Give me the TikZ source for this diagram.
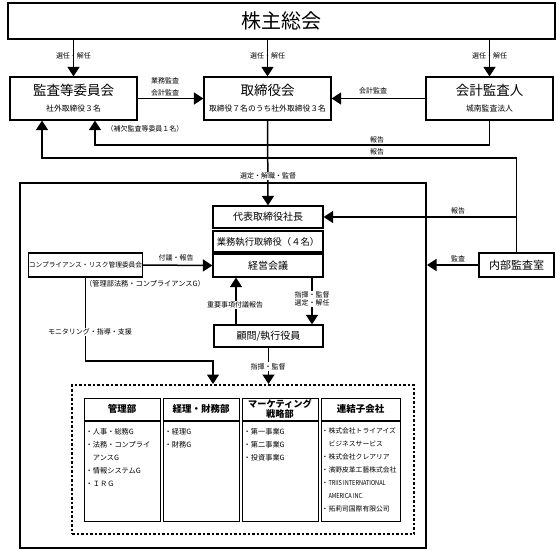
\documentclass[tikz,border=0pt]{standalone}
\usepackage{fontspec}
\setmainfont{Noto Sans CJK JP}
\usetikzlibrary{arrows.meta}
\tikzset{
  box/.style={draw, line width=1.2pt, fill=white, inner sep=0pt},
  arr/.style={line width=1.5pt, -{Triangle[width=12pt,length=9.5pt]}},
  lbl/.style={font=\fontsize{7}{8.5}\selectfont, inner sep=1pt, align=center},
  lblw/.style={lbl, fill=white},
  title/.style={font=\fontsize{13.5}{15}\selectfont, inner sep=0pt},
  sub/.style={font=\fontsize{7.8}{9}\selectfont, inner sep=0pt},
  hdr/.style={draw, line width=1pt, fill=white, inner sep=0pt, minimum width=76pt, minimum height=22pt, font=\bfseries\fontsize{9.5}{10}\selectfont, align=center},
  bodybox/.style={draw, line width=1pt, fill=white, inner sep=0pt, minimum width=76pt, minimum height=100pt},
  items/.style={anchor=north west, align=left, inner sep=0pt, font=\fontsize{7.2}{13}\selectfont},
}
\begin{document}
\begin{tikzpicture}[x=1pt,y=-1pt]
\useasboundingbox (0,0) rectangle (560,551);
\fill[white] (0,0) rectangle (560,551);

% top level
\node[box, minimum width=547pt, minimum height=36pt, font=\fontsize{20}{22}\selectfont] (sh) at (281.5,21) {株主総会};
\node[box, minimum width=127pt, minimum height=43pt] (kansa) at (73.5,98.5) {};
\node[title] at (73.5,90) {監査等委員会};
\node[sub] at (73.5,109) {社外取締役３名};
\node[box, minimum width=127pt, minimum height=43pt] (tori) at (267.5,98.5) {};
\node[title] at (267.5,90) {取締役会};
\node[sub] at (267.5,109) {取締役７名のうち社外取締役３名};
\node[box, minimum width=127pt, minimum height=43pt] (kaikei) at (489.5,98.5) {};
\node[title] at (489.5,90) {会計監査人};
\node[sub] at (489.5,109) {城南監査法人};

\draw[arr] (sh.south -| kansa) -- (kansa.north);
\draw[arr] (sh.south -| tori) -- (tori.north);
\draw[arr] (sh.south -| kaikei) -- (kaikei.north);
\node[lbl] at (73.5,56) {選任・解任};
\node[lbl] at (267.5,56) {選任・解任};
\node[lbl] at (489.5,56) {選任・解任};

\draw[arr] (kansa.east) -- (tori.west);
\node[lbl] at (165,81) {業務監査};
\node[lbl] at (165,92.5) {会計監査};
\draw[arr] (kaikei.west) -- (tori.east);
\node[lbl] at (373,91) {会計監査};
\node[lbl] at (145,129) {（補欠監査等委員１名）};

% container
\node[draw, line width=2pt, inner sep=0pt, minimum width=406pt, minimum height=365pt] (cont) at (223,365.5) {};

% executive stack
\node[box, minimum width=110pt, minimum height=22pt, font=\fontsize{10}{11}\selectfont] (daihyo) at (268,217) {代表取締役社長};
\node[box, minimum width=110pt, minimum height=21pt, font=\fontsize{9.3}{11}\selectfont] (gyomu) at (268,241.5) {業務執行取締役（４名）};
\node[box, minimum width=110pt, minimum height=23pt, font=\fontsize{10}{11}\selectfont] (keiei) at (268,265.5) {経営会議};
\node[box, minimum width=109pt, minimum height=22pt, font=\fontsize{10}{11}\selectfont] (komon) at (268.5,336) {顧問/執行役員};

% internal audit
\node[box, minimum width=75pt, minimum height=24pt, font=\fontsize{11}{12}\selectfont] (naibu) at (516.5,265) {内部監査室};

% compliance
\node[box, minimum width=111pt, minimum height=24pt, font=\fontsize{6.7}{8}\selectfont] (comp) at (85.5,265) {コンプライアンス・リスク管理委員会};
\node[lbl, font=\fontsize{7.2}{8}\selectfont] at (145,283.5) {（管理部法務・コンプライアンスG）};

% report lines
\coordinate (r1) at (95,145);
\coordinate (r2) at (42,158);
\draw[arr] (kaikei.south) |- (r1) -- (r1 |- kansa.south);
\draw[arr] (naibu.north) |- (r2) -- (r2 |- kansa.south);
\node[lbl] at (377,139.5) {報告};
\node[lbl] at (377,152) {報告};

\draw[arr] (tori.south) -- (daihyo.north);
\node[lblw] at (268,176) {選定・解職・監督};

\draw[arr] (naibu.north |- daihyo.east) -- (daihyo.east);
\node[lbl] at (458,211) {報告};
\draw[arr] (naibu.west) -- (naibu.west -| cont.east);
\node[lbl] at (458,259) {監査};

\draw[arr] (comp.east) -- (keiei.west);
\node[lbl] at (176,258) {付議・報告};

% dashed group
\node[draw, line width=2pt, dash pattern=on 2.5pt off 2pt, inner sep=0pt, minimum width=342pt, minimum height=149pt] (grp) at (243,459.5) {};

\coordinate (m1) at (213,361);
\draw[arr] (comp.south) |- (m1) -- (m1 |- grp.north);
\node[lblw] at (90,332) {モニタリング・指導・支援};

\coordinate (k1) at (236,325);
\draw[arr] (k1) -- (k1 |- keiei.south);
\node[lblw] at (235,305) {重要事項付議報告};
\coordinate (k2) at (312,277);
\draw[arr] (k2) -- (k2 |- komon.north);
\node[lblw] at (312,299) {指揮・監督\\選定・解任};
\draw[arr] (komon.south) -- (komon.south |- grp.north);
\node[lblw] at (268,366.5) {指揮・監督};

% columns
\node[hdr] (h1) at (122,409) {管理部};
\node[hdr] (h2) at (201,409) {経理・財務部};
\node[hdr, font=\bfseries\fontsize{9.2}{10.5}\selectfont] (h3) at (280,409) {マーケティング\\戦略部};
\node[hdr, minimum width=79pt] (h4) at (360.5,409) {連結子会社};
\node[bodybox] (b1) at (122,471.5) {};
\node[bodybox] (b2) at (201,471.5) {};
\node[bodybox] (b3) at (280,471.5) {};
\node[bodybox, minimum width=79pt] (b4) at (360.5,471.5) {};

\node[items] at ([xshift=2pt,yshift=-7pt]b1.north west) {・人事・総務G\\・法務・コンプライ\\\hspace*{7.2pt}アンスG\\・情報システムG\\・ＩＲＧ};
\node[items] at ([xshift=2pt,yshift=-7pt]b2.north west) {・経理G\\・財務G};
\node[items] at ([xshift=2pt,yshift=-7pt]b3.north west) {・第一事業G\\・第二事業G\\・投資事業G};
\node[items, font=\fontsize{6.8}{13}\selectfont] at ([xshift=1pt,yshift=-7pt]b4.north west) {・株式会社トライアイズ\\\hspace*{6.8pt}ビジネスサービス\\・株式会社クレアリア\\・濱野皮革工藝株式会社\\・\scalebox{0.82}[1]{TRIIS INTERNATIONAL}\\\hspace*{6.8pt}\scalebox{0.82}[1]{AMERICA INC.}\\・拓莉司国際有限公司};
\end{tikzpicture}
\end{document}
